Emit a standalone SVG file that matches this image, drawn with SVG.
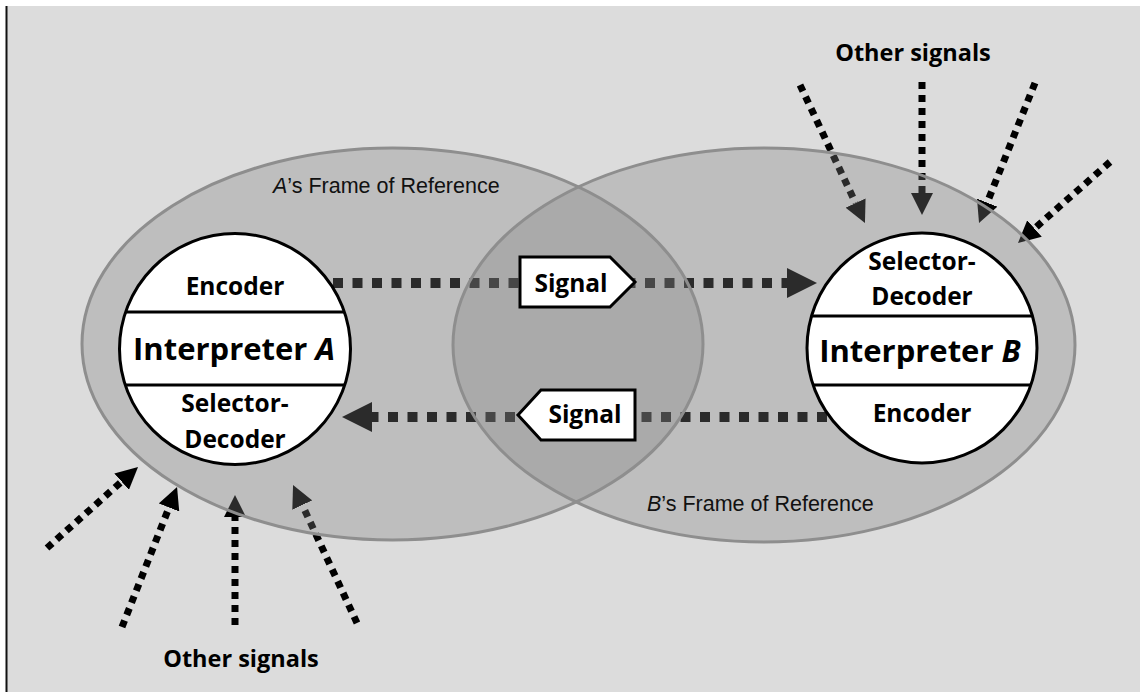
<svg xmlns="http://www.w3.org/2000/svg" width="1140" height="692" viewBox="0 0 1140 692">
  <style>
    .frame { fill: rgb(130,130,130); fill-opacity: 0.33; stroke: none; }
    .frame-edge { fill: none; stroke: #8e8e8e; stroke-width: 3; }
    .interp { fill: #ffffff; stroke: #000000; stroke-width: 3; }
    .rule { stroke: #000000; stroke-width: 3; }
    .lbl { font-family: "Open Sans", "Liberation Sans", sans-serif; font-weight: bold; fill: #000; text-anchor: middle; }
    .sub { font-size: 24.5px; }
    .big { font-size: 31px; }
    .other { font-size: 23.5px; }
    .frame-lbl { font-family: "Liberation Sans", Arial, sans-serif; font-size: 21.5px; fill: #111; }
    .main-flow { fill: none; stroke: #000; stroke-width: 10; stroke-dasharray: 10 9.5; }
    .side-flow { fill: none; stroke: #000; stroke-width: 7; stroke-dasharray: 7 6; }
    .tag { fill: #ffffff; stroke: #000000; stroke-width: 3; stroke-linejoin: miter; }
  </style>
  <defs>
    <marker id="headBig" markerUnits="userSpaceOnUse" markerWidth="30" markerHeight="30" refX="0" refY="15" orient="auto">
      <path d="M0,0 L30,15 L0,30 Z" fill="#000"/>
    </marker>
    <marker id="headSmall" markerUnits="userSpaceOnUse" markerWidth="22" markerHeight="22" refX="0" refY="11" orient="auto">
      <path d="M0,0 L22,11 L0,22 Z" fill="#000"/>
    </marker>
  </defs>

  <!-- page -->
  <rect x="0" y="0" width="1140" height="692" fill="#ffffff"/>
  <rect x="6" y="6" width="1134" height="686" fill="#dcdcdc"/>
  <line x1="6.5" y1="6" x2="6.5" y2="692" stroke="#111" stroke-width="2"/>

  <!-- connectors (drawn under the translucent frames) -->
  <g id="connectors">
    <path class="main-flow" d="M333,283 L787,283" marker-end="url(#headBig)"/>
    <path class="main-flow" d="M827,417 L372,417" marker-end="url(#headBig)"/>

    <path class="side-flow" d="M800,85 L855.6,203.1" marker-end="url(#headSmall)"/>
    <path class="side-flow" d="M922,82 L922,193" marker-end="url(#headSmall)"/>
    <path class="side-flow" d="M1035,83 L987.2,202.6" marker-end="url(#headSmall)"/>
    <path class="side-flow" d="M1110,162 L1034.5,228.5" marker-end="url(#headSmall)"/>

    <path class="side-flow" d="M47,548 L121.6,481.6" marker-end="url(#headSmall)"/>
    <path class="side-flow" d="M122,627 L169,507.5" marker-end="url(#headSmall)"/>
    <path class="side-flow" d="M235,625 L235,517" marker-end="url(#headSmall)"/>
    <path class="side-flow" d="M357,623 L302.3,505" marker-end="url(#headSmall)"/>
  </g>

  <!-- frames of reference -->
  <g id="frameA">
    <ellipse class="frame" cx="392.5" cy="344" rx="310.5" ry="196"/>
  </g>
  <g id="frameB">
    <ellipse class="frame" cx="764" cy="345" rx="311" ry="197"/>
  </g>
  <ellipse class="frame-edge" cx="392.5" cy="344" rx="310.5" ry="196"/>
  <ellipse class="frame-edge" cx="764" cy="345" rx="311" ry="197"/>
  <text class="frame-lbl" x="273" y="193"><tspan font-style="italic">A</tspan>’s Frame of Reference</text>
  <text class="frame-lbl" x="647" y="511"><tspan font-style="italic">B</tspan>’s Frame of Reference</text>

  <!-- interpreter A -->
  <g id="interpreterA">
    <circle class="interp" cx="235" cy="349" r="115.5"/>
    <line class="rule" x1="125.6" y1="312" x2="344.4" y2="312"/>
    <line class="rule" x1="125.3" y1="385" x2="344.7" y2="385"/>
    <text class="lbl sub" x="235" y="295">Encoder</text>
    <text class="lbl big" x="234" y="360">Interpreter <tspan font-style="italic">A</tspan></text>
    <text class="lbl sub" x="235" y="412">Selector-</text>
    <text class="lbl sub" x="235" y="448">Decoder</text>
  </g>

  <!-- interpreter B -->
  <g id="interpreterB">
    <circle class="interp" cx="922" cy="348" r="115"/>
    <line class="rule" x1="811.5" y1="316" x2="1032.5" y2="316"/>
    <line class="rule" x1="813.1" y1="385" x2="1030.9" y2="385"/>
    <text class="lbl sub" x="922" y="270">Selector-</text>
    <text class="lbl sub" x="922" y="305">Decoder</text>
    <text class="lbl big" x="920" y="362">Interpreter <tspan font-style="italic">B</tspan></text>
    <text class="lbl sub" x="922" y="422">Encoder</text>
  </g>

  <!-- signal tags -->
  <g id="signalAB">
    <path class="tag" d="M520,257 L610,257 L635,282 L610,307 L520,307 Z"/>
    <text class="lbl sub" x="571" y="292">Signal</text>
  </g>
  <g id="signalBA">
    <path class="tag" d="M635,390 L541,390 L518,415 L541,440 L635,440 Z"/>
    <text class="lbl sub" x="585" y="423">Signal</text>
  </g>

  <!-- other signal labels -->
  <g id="otherSignalsTop">
    <text class="lbl other" x="913" y="61">Other signals</text>
  </g>
  <g id="otherSignalsBottom">
    <text class="lbl other" x="241" y="667">Other signals</text>
  </g>
</svg>
